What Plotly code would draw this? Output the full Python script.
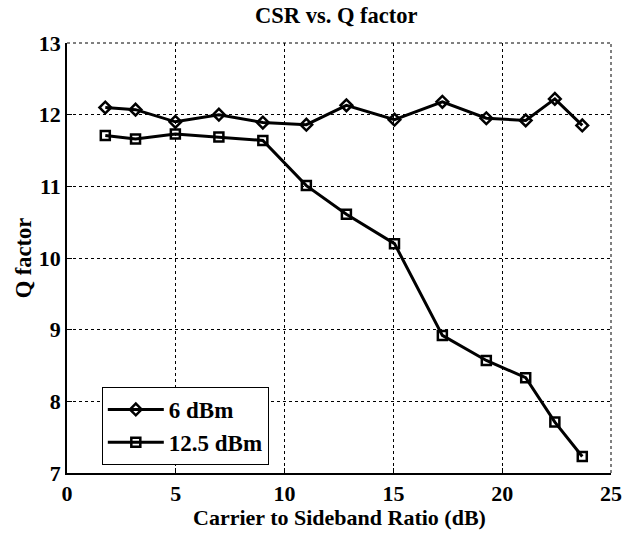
import plotly.graph_objects as go

csr = [1.76, 3.15, 4.98, 6.98, 9.0, 11.0, 12.84, 15.05, 17.25, 19.27, 21.08, 22.42, 23.68]
q_6dbm = [12.10, 12.07, 11.90, 12.00, 11.89, 11.86, 12.13, 11.93, 12.18, 11.95, 11.92, 12.22, 11.85]
q_125dbm = [11.71, 11.66, 11.73, 11.69, 11.64, 11.01, 10.61, 10.20, 8.92, 8.57, 8.33, 7.71, 7.23]
x_ticks = [0, 5, 10, 15, 20, 25]
y_ticks = [7, 8, 9, 10, 11, 12, 13]

font_family = "Liberation Serif, Times New Roman, serif"

fig = go.Figure()
fig.add_trace(go.Scatter(
    x=csr, y=q_6dbm, name="<b>6 dBm</b>", mode="lines+markers",
    line=dict(color="black", width=3),
    marker=dict(symbol="diamond-open", size=9, color="black", line=dict(width=2.5, color="black")),
))
fig.add_trace(go.Scatter(
    x=csr, y=q_125dbm, name="<b>12.5 dBm</b>", mode="lines+markers",
    line=dict(color="black", width=3),
    marker=dict(symbol="square-open", size=9, color="black", line=dict(width=2.5, color="black")),
))

axis_common = dict(
    showgrid=True, gridcolor="black", griddash="3px,3px", gridwidth=1,
    showline=True, linecolor="black", linewidth=1.5, mirror=False,
    ticks="inside", ticklen=5, tickcolor="black",
    zeroline=False, automargin=False, ticklabeloverflow="allow",
    tickfont=dict(family=font_family, size=22, color="black", weight="bold"),
)

fig.update_layout(
    width=625, height=533,
    paper_bgcolor="white", plot_bgcolor="white",
    margin=dict(l=67, r=14, t=43, b=60),
    title=dict(text="<b>CSR vs. Q factor</b>", x=0.538, xanchor="center", y=0.972, yanchor="middle",
               font=dict(family=font_family, size=22.5, color="black")),
    xaxis=dict(range=[0, 25], tickvals=x_ticks, **axis_common),
    yaxis=dict(range=[7, 13], tickvals=y_ticks,
               title=dict(text="<b>Q factor</b>", standoff=1,
                          font=dict(family=font_family, size=22.5, color="black")),
               **axis_common),
    legend=dict(x=0.064, y=0.2, xanchor="left", yanchor="top",
                bgcolor="white", bordercolor="black", borderwidth=1,
                font=dict(family=font_family, size=23, color="black"),
                tracegroupgap=0, itemwidth=56),
    showlegend=True,
    annotations=[
        dict(text="<b>Carrier to Sideband Ratio (dB)</b>", xref="paper", yref="paper",
             x=0.5, y=-0.104, xanchor="center", yanchor="middle", showarrow=False,
             font=dict(family=font_family, size=22, color="black")),
    ],
    shapes=[
        dict(type="line", xref="paper", yref="paper", x0=0, x1=1, y0=1, y1=1,
             line=dict(color="black", width=1, dash="3px,3px")),
        dict(type="line", xref="paper", yref="paper", x0=1, x1=1, y0=0, y1=1,
             line=dict(color="black", width=1, dash="3px,3px")),
    ],
)

fig.write_html("out.html", config={"displayModeBar": False},
               post_script="document.body.style.margin='0px';")
